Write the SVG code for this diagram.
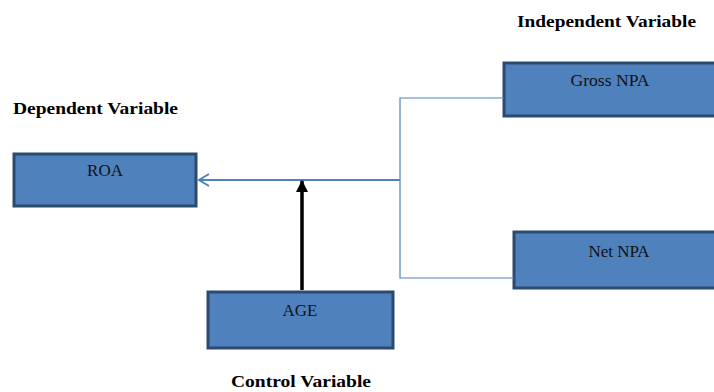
<svg xmlns="http://www.w3.org/2000/svg" width="714" height="392" viewBox="0 0 714 392">
<defs>
<style>
.box{fill:#4F81BD;stroke:#2C4A70;stroke-width:3}
.lbl{font-family:"Liberation Serif","Times New Roman",serif;font-size:17px;fill:#111;text-anchor:middle}
.hdr{font-family:"Liberation Serif","Times New Roman",serif;font-size:17px;font-weight:bold;fill:#000}
.conn{fill:none;stroke:#4F81BD}
</style>
<marker id="open" markerWidth="14" markerHeight="16" refX="12" refY="8" orient="auto" markerUnits="userSpaceOnUse">
<path d="M2,2 L12,8 L2,14" fill="none" stroke="#4F81BD" stroke-width="2"/>
</marker>
<marker id="solid" markerWidth="12" markerHeight="12" refX="11" refY="6" orient="auto" markerUnits="userSpaceOnUse">
<path d="M0,0 L12,6 L0,12 Z" fill="#000"/>
</marker>
</defs>
<rect x="0" y="0" width="714" height="392" fill="#fff"/>
<g id="roa">
<rect class="box" x="14" y="154" width="182" height="52"/>
<text class="lbl" x="105" y="176">ROA</text>
</g>
<g id="gross-npa">
<rect class="box" x="504" y="63" width="212" height="53"/>
<text class="lbl" x="610" y="86" textLength="79" lengthAdjust="spacingAndGlyphs">Gross NPA</text>
</g>
<g id="net-npa">
<rect class="box" x="514" y="232" width="202" height="56"/>
<text class="lbl" x="619" y="257">Net NPA</text>
</g>
<g id="age">
<rect class="box" x="208" y="292" width="185" height="56"/>
<text class="lbl" x="300" y="316">AGE</text>
</g>
<g id="connectors">
<path class="conn" d="M504,98 H400 V278 H514" stroke-width="1.2"/>
<path class="conn" d="M400,180 H199" stroke-width="2" marker-end="url(#open)"/>
<path d="M302,290 V181" stroke="#000" stroke-width="3.5" fill="none" marker-end="url(#solid)"/>
</g>
<g id="labels">
<text class="hdr" x="517" y="27" textLength="179" lengthAdjust="spacingAndGlyphs">Independent Variable</text>
<text class="hdr" x="13" y="114" textLength="165" lengthAdjust="spacingAndGlyphs">Dependent Variable</text>
<text class="hdr" x="231" y="387" textLength="140" lengthAdjust="spacingAndGlyphs">Control Variable</text>
</g>
</svg>
